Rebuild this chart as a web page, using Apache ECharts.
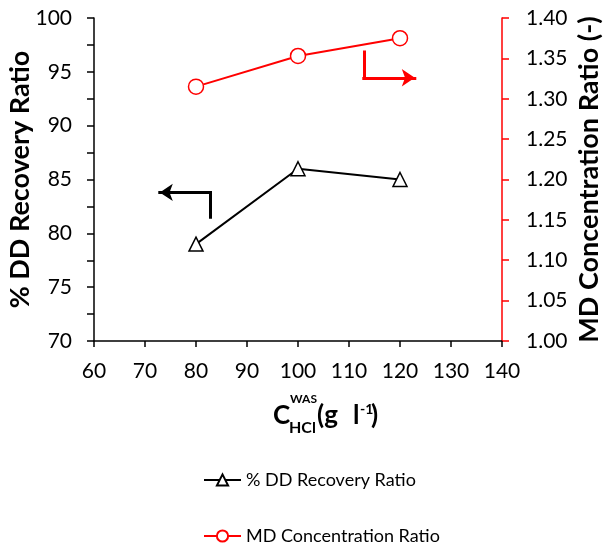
<!DOCTYPE html>
<html style="height: 100%">
<head>
    <meta charset="UTF-8">
    <script src="https://cdn.jsdelivr.net/npm/echarts@6/dist/echarts.min.js"></script>
</head>
<body style="height: 100%; margin: 0; background: #fff">
    <div id="main" style="width: 609px; height: 547px;"></div>
    <script type="text/javascript">
        var FONT = 'Lato';

        // data
        var concHCl = [80, 100, 120];
        var ddRecovery = [79, 86, 85];
        var mdConcentration = [1.315, 1.353, 1.375];
        // annotation arrows (axis coordinates): stem, then arrow leg
        var arrowLeftStem = [[82.7, 81.5], [82.7, 83.8]];
        var arrowLeftHead = [[82.7, 83.8], [72.9, 83.8]];
        var arrowRightStem = [[112.9, 1.358], [112.9, 1.326]];
        var arrowRightHead = [[112.9, 1.326], [122.9, 1.326]];

        var myChart = echarts.init(document.getElementById('main'));

        function arrowSeries(coords, axis, color, head) {
            return {
                type: 'lines',
                coordinateSystem: 'cartesian2d',
                yAxisIndex: axis,
                symbol: head ? ['none', 'arrow'] : ['none', 'none'],
                symbolSize: 13,
                lineStyle: { color: color, width: 3, opacity: 1, cap: 'square' },
                data: [{ coords: coords }],
                silent: true
            };
        }

        var legendText = { fontSize: 18, color: '#000', fontFamily: FONT };

        var option = {
            animation: false,
            textStyle: { fontFamily: FONT },
            grid: { left: 94, right: 107, top: 18, bottom: 206, containLabel: false, outerBoundsMode: 'none' },
            legend: [{
                left: 198, top: 466,
                itemWidth: 37, itemHeight: 14,
                textStyle: legendText,
                data: ['% DD Recovery Ratio']
            }, {
                left: 198, top: 522,
                itemWidth: 37, itemHeight: 14,
                textStyle: legendText,
                data: ['MD Concentration Ratio']
            }],
            xAxis: {
                type: 'value',
                min: 60, max: 140, interval: 10,
                axisLine: { lineStyle: { color: '#000', width: 1.5 } },
                axisTick: { length: 6, lineStyle: { color: '#000', width: 1.5 } },
                axisLabel: { fontSize: 21, color: '#000', margin: 20 },
                splitLine: { show: false }
            },
            yAxis: [{
                type: 'value',
                min: 70, max: 100, interval: 5,
                axisLine: { show: true, lineStyle: { color: '#000', width: 1.5 } },
                axisTick: { show: true, length: 7, lineStyle: { color: '#000', width: 1.5 } },
                minorTick: { show: true, splitNumber: 2, length: 7, lineStyle: { color: '#000', width: 1.5 } },
                axisLabel: { fontSize: 21, color: '#000', margin: 22 },
                splitLine: { show: false },
                name: '% DD Recovery Ratio',
                nameLocation: 'middle',
                nameGap: 60,
                nameMoveOverlap: false,
                nameTextStyle: { fontSize: 27, fontWeight: 'bold', color: '#000' }
            }, {
                type: 'value',
                position: 'right',
                min: 1, max: 1.4, interval: 0.05,
                axisLine: { show: true, lineStyle: { color: '#ff0000', width: 1.5 } },
                axisTick: { show: true, length: 7, lineStyle: { color: '#ff0000', width: 1.5 } },
                axisLabel: {
                    fontSize: 21, color: '#000', margin: 24,
                    formatter: function (v) { return v.toFixed(2); }
                },
                splitLine: { show: false },
                name: 'MD Concentration Ratio (-)',
                nameLocation: 'middle',
                nameGap: 74,
                nameRotate: 90,
                nameMoveOverlap: false,
                nameTextStyle: { fontSize: 27, fontWeight: 'bold', color: '#000' }
            }],
            series: [{
                name: '% DD Recovery Ratio',
                type: 'line',
                yAxisIndex: 0,
                data: concHCl.map(function (x, i) { return [x, ddRecovery[i]]; }),
                symbol: 'triangle',
                symbolSize: 14,
                lineStyle: { color: '#000', width: 2 },
                itemStyle: { color: '#fff', borderColor: '#000', borderWidth: 1.5 }
            }, {
                name: 'MD Concentration Ratio',
                type: 'line',
                yAxisIndex: 1,
                data: concHCl.map(function (x, i) { return [x, mdConcentration[i]]; }),
                symbol: 'circle',
                symbolSize: 15,
                lineStyle: { color: '#ff0000', width: 2 },
                itemStyle: { color: '#fff', borderColor: '#ff0000', borderWidth: 1.5 }
            },
                arrowSeries(arrowLeftStem, 0, '#000', false),
                arrowSeries(arrowLeftHead, 0, '#000', true),
                arrowSeries(arrowRightStem, 1, '#ff0000', false),
                arrowSeries(arrowRightHead, 1, '#ff0000', true)
            ],
            graphic: [
                { type: 'text', left: 273, top: 403, style: { text: 'C', fontSize: 26, fontWeight: 'bold', fill: '#000', fontFamily: FONT } },
                { type: 'text', left: 290, top: 393, style: { text: 'WAS', fontSize: 12, fontWeight: 'bold', fill: '#000', fontFamily: FONT } },
                { type: 'text', left: 289, top: 420, style: { text: 'HCl', fontSize: 16, fontWeight: 'bold', fill: '#000', fontFamily: FONT } },
                { type: 'text', left: 317, top: 403, style: { text: '(g', fontSize: 26, fontWeight: 'bold', fill: '#000', fontFamily: FONT } },
                { type: 'text', left: 353, top: 403, style: { text: 'l', fontSize: 26, fontWeight: 'bold', fill: '#000', fontFamily: FONT } },
                { type: 'text', left: 360, top: 402, style: { text: '-1', fontSize: 14, fontWeight: 'bold', fill: '#000', fontFamily: FONT } },
                { type: 'text', left: 371, top: 403, style: { text: ')', fontSize: 26, fontWeight: 'bold', fill: '#000', fontFamily: FONT } }
            ]
        };

        myChart.setOption(option);
    </script>
</body>
</html>
